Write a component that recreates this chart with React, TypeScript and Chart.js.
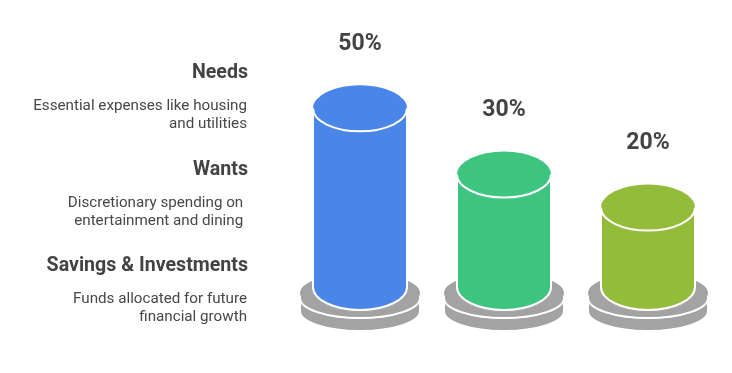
import React, { useEffect, useRef } from "react";
import { Chart, registerables } from "chart.js";

Chart.register(...registerables);

const categories = ["Needs", "Wants", "Savings & Investments"];
const values = [50, 30, 20];
const valueLabels = ["50%", "30%", "20%"];
const descriptions = [
  ["Essential expenses like housing", "and utilities"],
  ["Discretionary spending on ", "entertainment and dining "],
  ["Funds allocated for future", "financial growth"],
];
const colors = ["#4a86e8", "#3dc47e", "#92bc3a"];

const TEXT = "#434343";

function cylinderPath(ctx: CanvasRenderingContext2D, cx: number, top: number, bot: number, rx: number, ry: number) {
  ctx.beginPath();
  ctx.moveTo(cx - rx, top);
  ctx.lineTo(cx - rx, bot);
  ctx.ellipse(cx, bot, rx, ry, 0, Math.PI, 0, true);
  ctx.lineTo(cx + rx, top);
  ctx.ellipse(cx, top, rx, ry, 0, 0, Math.PI, true);
  ctx.closePath();
}

function drawCylinder(
  ctx: CanvasRenderingContext2D,
  cx: number,
  top: number,
  bot: number,
  rx: number,
  ry: number,
  fill: string,
  lw: number,
  topArc: boolean
) {
  ctx.save();
  cylinderPath(ctx, cx, top, bot, rx, ry);
  ctx.fillStyle = fill;
  ctx.fill();
  ctx.strokeStyle = "#ffffff";
  ctx.lineWidth = lw;
  ctx.stroke();
  ctx.beginPath();
  ctx.ellipse(cx, top, rx, ry, 0, 0, Math.PI * 2);
  ctx.fillStyle = fill;
  ctx.fill();
  if (topArc) {
    ctx.beginPath();
    ctx.ellipse(cx, top, rx, ry, 0, 0, Math.PI, false);
    ctx.stroke();
  }
  ctx.restore();
}

const cylinderPlugin = {
  id: "cylinders",
  afterDatasetsDraw(chart: any) {
    const ctx: CanvasRenderingContext2D = chart.ctx;
    const meta = chart.getDatasetMeta(0);
    const yScale = chart.scales.y;
    const base = yScale.bottom;
    meta.data.forEach((bar: any, i: number) => {
      const cx = bar.x;
      const rx = bar.width / 2;
      const ry = 23;
      const drx = rx + 13;
      const dry = 20;
      // base discs
      drawCylinder(ctx, cx, base + 11, base + 24, drx, dry, "#a3a3a3", 2, true);
      drawCylinder(ctx, cx, base + 6, base + 11, drx, dry, "#a3a3a3", 2, false);
      // column
      drawCylinder(ctx, cx, bar.y, base, rx, ry, colors[i], 2, true);
      // value label
      ctx.save();
      ctx.fillStyle = TEXT;
      ctx.font = "bold 23px Roboto";
      ctx.textAlign = "center";
      ctx.textBaseline = "middle";
      ctx.fillText(valueLabels[i], cx, bar.y - 64);
      ctx.restore();
    });

    // left side labels
    const titleY = [73, 170, 266];
    ctx.save();
    ctx.textAlign = "right";
    ctx.textBaseline = "middle";
    categories.forEach((c, i) => {
      ctx.fillStyle = TEXT;
      ctx.font = "bold 19.6px Roboto";
      ctx.fillText(c, 248, titleY[i]);
      ctx.font = "15.2px Roboto";
      ctx.fillStyle = "#474747";
      descriptions[i].forEach((line, j) => {
        ctx.fillText(line, 247, titleY[i] + 33 + j * 18);
      });
    });
    ctx.restore();
  },
};

export default function App() {
  const ref = useRef<HTMLCanvasElement>(null);
  useEffect(() => {
    document.body.style.margin = "0";
    const chart = new Chart(ref.current!, {
      type: "bar",
      data: {
        labels: categories,
        datasets: [
          {
            data: values,
            backgroundColor: "rgba(0,0,0,0)",
            borderWidth: 0,
            barPercentage: 0.653,
            categoryPercentage: 1,
          },
        ],
      },
      options: {
        animation: false,
        responsive: true,
        maintainAspectRatio: false,
        layout: { padding: { left: 288, right: 12, top: 9, bottom: 86 } },
        plugins: { legend: { display: false }, tooltip: { enabled: false } },
        scales: {
          x: { display: false },
          y: { display: false, min: -4, max: 80 },
        },
      },
      plugins: [cylinderPlugin],
    });
    return () => chart.destroy();
  }, []);
  return (
    <div style={{ position: "fixed", left: 0, top: 0, width: 732, height: 373, background: "#fff" }}>
      <canvas ref={ref} />
    </div>
  );
}
